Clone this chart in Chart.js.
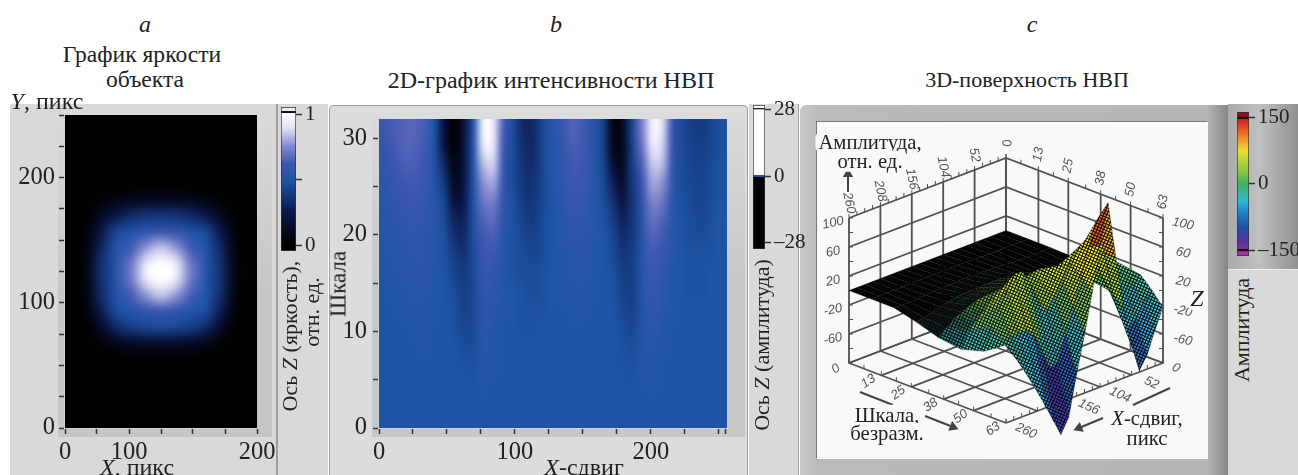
<!DOCTYPE html>
<html lang="ru">
<head>
<meta charset="utf-8">
<script src="https://cdn.jsdelivr.net/npm/chart.js@4/dist/chart.umd.min.js"></script>
<style>
  html, body { margin: 0; padding: 0; background: #fff; }
  #page { position: relative; width: 1298px; height: 475px; overflow: hidden; font-family: "Liberation Serif", serif; color: #222; }
  .box, canvas { position: absolute; }
  .t { position: absolute; white-space: nowrap; transform: translate(-50%, -50%); font-size: 22px; line-height: 1; z-index: 3; }
  .v { transform: translate(-50%, -50%) rotate(-90deg); }
  .s { font-size: 20.7px; background: #f9f9f7; padding: 0 3px; border-radius: 6px; }
  i { font-style: italic; }
</style>
</head>
<body>
<div id="page">
  <div class="box" style="left:10px;top:104px;width:266px;height:371px;background:#d9d9d9"></div>
  <div class="box" style="left:58px;top:115px;width:214px;height:322px;background:linear-gradient(#dadada,#c6c6c6 55%)"></div>
  <div class="box" style="left:276px;top:104px;width:2px;height:371px;background:#9c9c9c"></div>
  <div class="box" style="left:278px;top:104px;width:50px;height:371px;background:#d9d9d9"></div>

  <div class="box" style="left:329px;top:105px;width:417px;height:369px;background:#dcdcdc;border:1.5px solid #a0a0a0;border-radius:4px 4px 0 0"></div>
  <div class="box" style="left:372px;top:119px;width:373px;height:318px;background:linear-gradient(#dadada,#c8c8c8 50%)"></div>
  <div class="box" style="left:749px;top:104px;width:49px;height:371px;background:#d9d9d9;border-right:1.5px solid #a0a0a0"></div>

  <div class="box" style="left:800px;top:105px;width:428px;height:370px;background:linear-gradient(90deg,#c9c9c9,#b9bbbb 4%,#b5b7b7 95%,#858787);border-radius:6px 0 0 0"></div>
  <div class="box" style="left:817px;top:122px;width:391px;height:337px;background:#f9f9f7;box-shadow:-1px -1px 0 #777"></div>
  <div class="box" style="left:1228px;top:104px;width:70px;height:165px;background:linear-gradient(90deg,#a9abab,#c0c0c0 45%,#8f9191)"></div>
  <div class="box" style="left:1228px;top:269px;width:70px;height:206px;background:#d9d9d9;border-top:1px solid #eee"></div>

  <div class="t" style="left:145px;top:24px;font-size:24px"><i>a</i></div>
  <div class="t" style="left:556px;top:24px;font-size:24px"><i>b</i></div>
  <div class="t" style="left:1032px;top:24px;font-size:24px"><i>c</i></div>
  <div class="t" style="left:142px;top:55px;font-size:23.6px">График яркости</div>
  <div class="t" style="left:145px;top:80px;font-size:23.6px">объекта</div>
  <div class="t" style="left:551px;top:80px;font-size:24px">2D-график интенсивности НВП</div>
  <div class="t" style="left:1027px;top:80px">3D-поверхность НВП</div>
  <div class="t" style="left:47px;top:101px;font-size:24px"><i>Y</i>, пикс</div>
  <div class="t" style="left:137px;top:467px;font-size:24px"><i>X</i>, пикс</div>
  <div class="t v" style="left:290px;top:336px">Ось <i>Z</i> (яркость),</div>
  <div class="t v" style="left:312px;top:312px">отн. ед.</div>
  <div class="t v" style="left:338px;top:284px;font-size:23px">Шкала</div>
  <div class="t" style="left:584px;top:467px;font-size:24px"><i>X</i>-сдвиг</div>
  <div class="t v" style="left:762px;top:345px">Ось <i>Z</i> (амплитуда)</div>
  <div class="t v" style="left:1242px;top:330px">Амплитуда</div>
  <div class="t s" style="left:870px;top:142px">Амплитуда,</div>
  <div class="t s" style="left:870px;top:161px">отн. ед.</div>
  <div class="t s" style="left:887px;top:415px">Шкала,</div>
  <div class="t s" style="left:887px;top:433px">безразм.</div>
  <div class="t s" style="left:1147px;top:418px"><i>X</i>-сдвиг,</div>
  <div class="t s" style="left:1147px;top:438px">пикс</div>
  <div class="t s" style="left:1197px;top:298px;font-size:24px"><i>Z</i></div>
</div>

<script>
// panel a, brightness of the object, rows from top to bottom
const brightness = [
  [0,0,0,0,0,0,0,0,0,0,0,0,0],
  [0,0,0,0,0,0,0,0,0,0,0,0,0],
  [0,0,0,0,0,0,0,0,0,0,0,0,0],
  [0,0,0,0,0,0,0,0,0,0,0,0,0],
  [0,0,0,0,0,0,0,0,0,0,0,0,0],
  [0,0,.03,.07,.1,.12,.13,.12,.1,.07,.03,0,0],
  [0,.01,.12,.26,.34,.38,.39,.38,.34,.26,.12,.01,0],
  [0,.03,.26,.46,.52,.58,.62,.58,.52,.46,.26,.03,0],
  [0,.05,.32,.52,.63,.78,.86,.78,.63,.52,.32,.05,0],
  [0,.06,.36,.54,.72,.93,1,.93,.72,.54,.36,.06,0],
  [0,.06,.36,.54,.72,.93,1,.93,.72,.54,.36,.06,0],
  [0,.05,.34,.52,.64,.78,.86,.78,.64,.52,.34,.05,0],
  [0,.03,.28,.48,.52,.58,.62,.58,.52,.48,.28,.03,0],
  [0,.01,.14,.34,.42,.46,.47,.46,.42,.34,.14,.01,0],
  [0,0,.03,.1,.14,.16,.17,.16,.14,.1,.03,0,0],
  [0,0,0,0,0,0,0,0,0,0,0,0,0],
  [0,0,0,0,0,0,0,0,0,0,0,0,0],
  [0,0,0,0,0,0,0,0,0,0,0,0,0],
  [0,0,0,0,0,0,0,0,0,0,0,0,0],
  [0,0,0,0,0,0,0,0,0,0,0,0,0],
];
const aXTicks = [0, 33.33, 66.67, 100, 133.33, 166.67, 200];
const aXLabels = ["0", "", "100", "", "", "", "200"];
const aYTicks = [0, 25, 50, 75, 100, 125, 150, 175, 200, 225, 250];
const aYLabels = ["0", "", "", "", "100", "", "", "", "200", "", ""];

// panel b, wavelet amplitude, rows from scale 32 down to scale 0
const amplitude = [
  [6,8,9,9,8,1,-16,-28,-18,2,26,24,8,-2,-10,-10,-3,2,6,9,7,2,-4,-24,-22,-3,14,26,22,6,-2,-5,-6,-3,-1],
  [5,7,9,9,7,1,-14,-27,-17,2,24,23,7,-2,-9,-10,-3,1,5,8,7,2,-4,-22,-23,-4,12,24,21,6,-2,-4,-5,-3,-1],
  [4,6,8,8,6,1,-10,-24,-17,1,19,21,6,-2,-8,-9,-3,1,4,7,6,2,-3,-17,-22,-5,9,20,19,5,-2,-4,-4,-2,-1],
  [3,5,6,7,6,1,-6,-21,-16,1,15,17,5,-2,-7,-8,-3,1,4,6,6,2,-2,-12,-20,-6,7,17,15,4,-2,-3,-4,-2,-1],
  [2,4,5,6,5,2,-3,-16,-14,0,12,13,4,-1,-6,-7,-3,0,3,5,5,2,-1,-8,-16,-7,5,14,12,3,-1,-3,-3,-2,0],
  [2,3,4,5,4,2,-2,-11,-12,-1,9,10,3,-1,-4,-6,-2,0,2,4,4,2,-1,-5,-12,-7,3,11,9,3,-1,-2,-3,-1,0],
  [1,2,3,4,3,2,-1,-8,-10,-1,7,8,2,-1,-3,-4,-2,0,2,3,3,2,0,-3,-9,-6,2,9,7,2,-1,-2,-2,-1,0],
  [1,2,2,3,3,1,-1,-5,-8,-2,6,6,2,-1,-2,-3,-2,0,1,2,2,1,0,-2,-7,-5,2,7,5,2,0,-1,-1,-1,0],
  [0,1,2,2,2,1,0,-3,-6,-2,5,4,1,-1,-2,-2,-1,0,1,2,2,1,0,-1,-5,-5,2,6,4,1,0,-1,-1,0,0],
  [0,1,1,2,2,1,0,-2,-5,-3,4,3,1,0,-1,-2,-1,0,1,1,1,1,0,-1,-4,-5,2,5,3,1,0,-1,-1,0,0],
  [0,0,1,1,1,1,0,-1,-4,-3,3,2,1,0,-1,-1,-1,0,0,1,1,0,0,0,-3,-4,1,4,2,1,0,0,0,0,0],
  [0,0,0,1,1,0,0,-1,-3,-2,3,1,0,0,-1,-1,0,0,0,0,0,0,0,0,-2,-3,1,3,1,0,0,0,0,0,0],
  [0,0,0,0,1,0,0,0,-2,-2,2,1,0,0,0,0,0,0,0,0,0,0,0,0,-1,-2,1,2,1,0,0,0,0,0,0],
  [0,0,0,0,0,0,0,0,-1,-1,1,1,0,0,0,0,0,0,0,0,0,0,0,0,-1,-1,1,1,0,0,0,0,0,0,0],
  [0,0,0,0,0,0,0,0,0,-1,1,0,0,0,0,0,0,0,0,0,0,0,0,0,0,-1,0,1,0,0,0,0,0,0,0],
  [0,0,0,0,0,0,0,0,0,0,0,0,0,0,0,0,0,0,0,0,0,0,0,0,0,0,0,0,0,0,0,0,0,0,0],
  [0,0,0,0,0,0,0,0,0,0,0,0,0,0,0,0,0,0,0,0,0,0,0,0,0,0,0,0,0,0,0,0,0,0,0],
];
const bXTicks = [0, 25, 50, 75, 100, 125, 150, 175, 200, 225, 250, 255];
const bXLabels = ["0", "", "", "", "100", "", "", "", "200", "", "", ""];
const bYTicks = [0, 5, 10, 15, 20, 25, 30];
const bYLabels = ["0", "", "10", "", "20", "", "30"];

// panel c, surface height, one row per scale
const surfaceX = [0,13,26,39,52,65,78,91,104,117,130,143,156,169,182,195,208,221,234,247,260];
const surfaceS = [0,9,18,27,36,45,54,58.5,63];
const surfaceZ = [
  [0,0,0,0,0,0,0,0,0,0,0,0,0,0,0,0,0,0,0,0,0],
  [0,0,0,0,0,0,0,1,1,1,1,1,1,1,1,1,0,0,0,0,0],
  [0,-1,-1,-1,-1,0,1,2,2,3,3,3,3,2,2,2,1,0,-1,-1,0],
  [-1,-2,-3,-3,-3,-1,2,4,6,7,8,8,7,6,6,5,3,1,-3,-6,-8],
  [6,3,0,-2,0,4,8,12,16,18,20,20,18,16,16,14,10,5,0,-8,-18],
  [15,12,10,8,10,14,22,32,40,45,48,46,42,40,42,40,30,20,10,0,-22],
  [10,0,-5,-10,5,30,65,87,80,62,42,25,10,25,55,76,78,60,40,15,-13],
  [-5,-20,-35,-50,-25,10,70,120,88,50,12,-20,-55,-60,-30,-5,5,5,5,2,-3],
  [-23,-50,-80,-98,-60,-5,70,150,95,35,-20,-70,-125,-145,-121,-97,-74,-52,-31,-12,8],
];
const xShiftTicks = [0, 52, 104, 156, 208, 260];
const scaleTicks = [0, 13, 25, 38, 50, 63];
const zTicks = [100, 60, 20, -20, -60];

const SERIF = "'Liberation Serif', serif";
const TICK_FONT = { family: SERIF, size: 24.5 };
const BAR_FONT = { family: SERIF, size: 21 };
const INK = "#333";

// black through blue to white, used by panels a and b
const blueStops = [[0,[0,0,0]],[.25,[12,22,75]],[.5,[30,84,166]],[.62,[62,86,176]],[.75,[128,132,206]],[.9,[226,226,246]],[1,[255,255,255]]];
// rainbow of the colour bar in panel c, by value
const rainbowStops = [[-163,[165,50,160]],[-130,[85,50,150]],[-100,[32,80,160]],[-65,[32,128,192]],[-40,[48,184,216]],[0,[64,176,96]],[30,[144,200,64]],[75,[232,224,48]],[110,[240,120,40]],[145,[208,32,32]],[162,[138,16,32]]];
// the same rainbow as it looks on the meshed surface
const surfaceStops = [[-125,[150,50,170]],[-100,[60,50,170]],[-75,[35,70,175]],[-40,[50,170,200]],[0,[60,175,150]],[25,[120,185,70]],[60,[225,215,50]],[95,[235,190,45]],[112,[230,90,30]],[125,[180,20,20]]];

function pick(stops, v) {
  if (v <= stops[0][0]) return stops[0][1];
  for (let i = 1; i < stops.length; i++) {
    if (v <= stops[i][0]) {
      const [a, ca] = stops[i - 1];
      const [b, cb] = stops[i];
      const k = (v - a) / (b - a);
      return ca.map((c, n) => Math.round(c + (cb[n] - c) * k));
    }
  }
  return stops[stops.length - 1][1];
}
const rgb = (c) => `rgb(${c[0]},${c[1]},${c[2]})`;

function addCanvas(left, top, width, height) {
  const c = document.createElement("canvas");
  c.width = width;
  c.height = height;
  c.style.left = left + "px";
  c.style.top = top + "px";
  c.style.width = width + "px";
  c.style.height = height + "px";
  c.style.zIndex = 2;
  document.getElementById("page").appendChild(c);
  return c;
}

function tickedAxis(position, min, max, values, labels, size, padding, font = TICK_FONT) {
  return {
    type: "linear",
    position,
    min,
    max,
    offset: false,
    z: 1,
    afterBuildTicks: (axis) => { axis.ticks = values.map((value) => ({ value })); },
    afterFit: (axis) => {
      if (position === "bottom") axis.height = size;
      else axis.width = size;
      axis.paddingTop = axis.paddingBottom = axis.paddingLeft = axis.paddingRight = 0;
    },
    grid: { offset: false, drawOnChartArea: false, drawTicks: true, tickLength: 6, tickColor: INK, tickWidth: 1.5 },
    border: { display: true, color: "#d4d4d4", width: 2 },
    ticks: {
      autoSkip: false,
      maxRotation: 0,
      padding,
      color: "#222",
      font,
      callback: (_, i) => labels[i],
    },
  };
}

// cells come out as bars, this only smooths them over afterwards
const softenCells = (cols, rows) => ({
  id: "softenCells",
  afterDatasetsDraw(chart) {
    const a = chart.chartArea;
    const tmp = document.createElement("canvas");
    tmp.width = cols;
    tmp.height = rows;
    const t = tmp.getContext("2d");
    t.imageSmoothingEnabled = false;
    t.drawImage(chart.canvas, a.left, a.top, a.width, a.height, 0, 0, cols, rows);
    const ctx = chart.ctx;
    ctx.save();
    ctx.imageSmoothingEnabled = true;
    ctx.imageSmoothingQuality = "high";
    ctx.drawImage(tmp, 0, 0, cols, rows, a.left, a.top, a.width, a.height);
    ctx.restore();
  },
});

function heatChart({ grid, toColor, xMax, yMax, plot, canvasBox, xAxis, yAxis }) {
  const rows = grid.length;
  const cols = grid[0].length;
  const dx = xMax / cols;
  const dy = yMax / rows;
  const data = [];
  const colors = [];
  grid.forEach((row, r) => {
    row.forEach((v, c) => {
      data.push({ x: (c + 0.5) * dx, y: [yMax - (r + 1) * dy, yMax - r * dy] });
      colors.push(toColor(v));
    });
  });
  const canvas = addCanvas(canvasBox.left, canvasBox.top, canvasBox.width, canvasBox.height);
  return new Chart(canvas, {
    type: "bar",
    data: {
      datasets: [{
        data,
        backgroundColor: colors,
        barThickness: Math.ceil((plot.right - plot.left) / cols) + 1,
        borderWidth: 0,
      }],
    },
    options: {
      responsive: false,
      animation: false,
      layout: {
        autoPadding: false,
        padding: {
          left: 0,
          top: plot.top - canvasBox.top,
          right: canvasBox.left + canvasBox.width - plot.right,
          bottom: 0,
        },
      },
      plugins: { legend: { display: false }, tooltip: { enabled: false } },
      scales: { x: xAxis, y: yAxis },
    },
    plugins: [softenCells(cols, rows)],
  });
}

heatChart({
  grid: brightness,
  toColor: (v) => rgb(pick(blueStops, v)),
  xMax: 200,
  yMax: 250,
  plot: { left: 65, right: 257, top: 115, bottom: 428 },
  canvasBox: { left: 5, top: 105, width: 285, height: 370 },
  xAxis: tickedAxis("bottom", 0, 200, aXTicks, aXLabels, 47, 4),
  yAxis: tickedAxis("left", 0, 250, aYTicks, aYLabels, 60, 4),
});

heatChart({
  grid: amplitude,
  toColor: (v) => rgb(pick(blueStops, (v + 28) / 56)),
  xMax: 256,
  yMax: 32,
  plot: { left: 379, right: 727, top: 119, bottom: 428 },
  canvasBox: { left: 329, top: 105, width: 425, height: 370 },
  xAxis: tickedAxis("bottom", 0, 256, bXTicks, bXLabels, 47, 4),
  yAxis: tickedAxis("left", 0, 32, bYTicks, bYLabels, 50, 6),
});

function colorBar({ left, top, barWidth, height, min, max, ticks, labels, stops }) {
  const canvas = addCanvas(left, top - 8, barWidth + 62, height + 16);
  const range = max - min;
  return new Chart(canvas, {
    type: "bar",
    data: {
      labels: [""],
      datasets: [{
        data: [[min, max]],
        barPercentage: 1,
        categoryPercentage: 1,
        borderColor: "#333",
        borderWidth: 1,
        borderSkipped: false,
        backgroundColor: (c) => {
          const g = c.chart.ctx.createLinearGradient(0, 8 + height, 0, 8);
          stops.forEach(([v, color]) => g.addColorStop((v - min) / range, color));
          return g;
        },
      }],
    },
    options: {
      responsive: false,
      animation: false,
      layout: { autoPadding: false, padding: { top: 8, bottom: 8, left: 0, right: 0 } },
      plugins: { legend: { display: false }, tooltip: { enabled: false } },
      scales: {
        x: { display: false },
        y: {
          ...tickedAxis("right", min, max, ticks, labels, 62, 3, BAR_FONT),
          border: { display: false },
          grid: { drawOnChartArea: false, drawTicks: true, tickLength: 6, tickColor: INK, tickWidth: 1.5 },
        },
      },
    },
  });
}

colorBar({
  left: 281, top: 107, barWidth: 15, height: 144, min: -0.046, max: 1.06,
  ticks: [0, 0.5, 1], labels: ["0", "", "1"],
  stops: [[-0.046,"#000"],[0,"#000"],[.25,"#0c164b"],[.5,"#1e54a6"],[.62,"#3e56b0"],[.75,"#8084ce"],[.9,"#e2e2f6"],[1,"#fff"],[1.015,"#fff"],[1.016,"#111"],[1.03,"#111"],[1.031,"#eee"],[1.06,"#eee"]],
});

colorBar({
  left: 753, top: 105, barWidth: 12, height: 144, min: -30.6, max: 30.1,
  ticks: [-28, 0, 28], labels: ["–28", "0", "28"],
  stops: [[-30.6,"#000"],[-0.3,"#000"],[-0.29,"#1e54a6"],[0.6,"#1e54a6"],[0.61,"#fff"],[28.2,"#fff"],[28.21,"#222"],[29,"#222"],[29.01,"#fff"],[30.1,"#fff"]],
});

colorBar({
  left: 1237, top: 112, barWidth: 12, height: 144, min: -163, max: 162,
  ticks: [-150, 0, 150], labels: ["–150", "0", "150"],
  stops: [[-163,"#a532a0"],[-153,"#a532a0"],[-152,"#111"],[-148,"#111"],[-147,"#7a3298"],[-130,"#553296"],
    ...rainbowStops.slice(2, 9).map(([v, c]) => [v, rgb(c)]),
    [145,"#d02020"],[146,"#d02020"],[147,"#111"],[151,"#111"],[152,"#8a1020"],[162,"#8a1020"]],
});

// panel c
const project = (X, S, Z) => ({
  x: 1006 - 157 * X / 260 + 157 * S / 63,
  y: 230.5 + 60 * X / 260 + 60 * S / 63 - 0.725 * Z,
});

const patternCache = {};
function meshPattern(ctx, color) {
  const key = color.join(",");
  if (patternCache[key]) return patternCache[key];
  const tile = document.createElement("canvas");
  tile.width = 3;
  tile.height = 3;
  const t = tile.getContext("2d");
  t.fillStyle = "#080808";
  t.fillRect(0, 0, 3, 3);
  t.fillStyle = rgb(color);
  t.fillRect(0, 0, 2, 2);
  const p = ctx.createPattern(tile, "repeat");
  p.setTransform(new DOMMatrix().rotate(24));
  patternCache[key] = p;
  return p;
}

const drawn = [];
const addLine = (points, color, width) => drawn.push({
  data: points,
  showLine: true,
  fill: false,
  borderColor: color,
  borderWidth: width,
  pointRadius: 0,
});

const GRID = "#505050";
const lines3d = () => {
  const wall = [-100, ...zTicks];
  wall.forEach((z) => {
    addLine([project(260, 0, z), project(0, 0, z), project(0, 63, z)], GRID, 1.8);
  });
  xShiftTicks.forEach((x) => {
    addLine([project(x, 0, 100), project(x, 0, -100), project(x, 63, -100)], GRID, 1.8);
  });
  scaleTicks.forEach((s) => {
    addLine([project(0, s, 100), project(0, s, -100), project(260, s, -100)], GRID, 1.8);
  });
  surfaceX.forEach((x) => {
    const a = project(x, 0, 100);
    addLine([a, { x: a.x, y: a.y - 4 }], GRID, 1);
    const b = project(x, 63, -100);
    addLine([b, { x: b.x, y: b.y - 4 }], GRID, 1);
  });
  [0, 6, 13, 19, 25, 32, 38, 44, 50, 57, 63].forEach((s) => {
    const a = project(0, s, 100);
    addLine([a, { x: a.x, y: a.y - 4 }], GRID, 1);
    const b = project(260, s, -100);
    addLine([b, { x: b.x, y: b.y - 4 }], GRID, 1);
  });
  [100, 80, 60, 40, 20, 0, -20, -40, -60, -80].forEach((z) => {
    const a = project(260, 0, z);
    addLine([a, { x: a.x + 4, y: a.y }], GRID, 1);
    const b = project(0, 63, z);
    addLine([b, { x: b.x - 4, y: b.y }], GRID, 1);
  });
};
lines3d();

const surfaceCanvas = addCanvas(817, 122, 391, 337);
const surfaceCtx = surfaceCanvas.getContext("2d");
for (let xi = 0; xi < surfaceX.length - 1; xi++) {
  for (let si = 0; si < surfaceS.length - 1; si++) {
    const corners = [[xi, si], [xi + 1, si], [xi + 1, si + 1], [xi, si + 1], [xi, si]];
    const points = corners.map(([a, b]) => project(surfaceX[a], surfaceS[b], surfaceZ[b][a]));
    const mean = (surfaceZ[si][xi] + surfaceZ[si][xi + 1] + surfaceZ[si + 1][xi] + surfaceZ[si + 1][xi + 1]) / 4;
    const midS = (surfaceS[si] + surfaceS[si + 1]) / 2;
    // the mesh closes up to black where the sheet is seen at a grazing angle
    const shade = Math.max(0, Math.min(1, (midS - 30) / 18)) + Math.min(0.3, Math.abs(mean) / 100);
    const base = pick(surfaceStops, mean);
    const k = Math.min(1, shade) * 1.2;
    const color = base.map((c) => Math.min(255, Math.round(c * k / 12) * 12));
    drawn.push({
      data: points,
      showLine: true,
      fill: "shape",
      backgroundColor: meshPattern(surfaceCtx, color),
      borderColor: "rgba(0,0,0,0.45)",
      borderWidth: 0.6,
      pointRadius: 0,
    });
  }
}

// arrows next to the axis captions
const arrow = (from, to) => {
  const angle = Math.atan2(to.y - from.y, to.x - from.x) * 180 / Math.PI + 90;
  drawn.push({
    data: [from, to],
    showLine: true,
    fill: false,
    borderColor: "#444",
    borderWidth: 2,
    pointStyle: "triangle",
    pointRadius: [0, 6],
    pointRotation: angle,
    pointBackgroundColor: "#444",
    pointBorderWidth: 0,
  });
};
addLine([{ x: 860, y: 392 }, { x: 893, y: 405 }], "#444", 2);
arrow({ x: 925, y: 416 }, { x: 953, y: 427 });
addLine([{ x: 1170, y: 388 }, { x: 1133, y: 405 }], "#444", 2);
arrow({ x: 1103, y: 418 }, { x: 1079, y: 428 });
arrow({ x: 848, y: 192 }, { x: 848, y: 174 });

drawn.forEach((d, i) => { d.order = -i; });

const axisLabels3d = {
  id: "axisLabels3d",
  afterDatasetsDraw(chart) {
    const { ctx, scales } = chart;
    const put = (text, px, py, deg) => {
      ctx.save();
      ctx.translate(scales.x.getPixelForValue(px), scales.y.getPixelForValue(py));
      ctx.rotate(deg * Math.PI / 180);
      ctx.fillText(String(text), 0, 0);
      ctx.restore();
    };
    ctx.save();
    ctx.font = "italic 13px 'Liberation Sans', sans-serif";
    ctx.fillStyle = "#555";
    ctx.textAlign = "center";
    ctx.textBaseline = "middle";
    xShiftTicks.forEach((x) => {
      const p = project(x, 0, 100);
      put(x, p.x, p.y - 15, 78);
    });
    scaleTicks.forEach((s) => {
      if (s === 0) return;
      const p = project(0, s, 100);
      put(s, p.x, p.y - 16, -80);
    });
    zTicks.forEach((z) => {
      const l = project(260, 0, z);
      put(z > 0 ? z : "-" + Math.abs(z), l.x - 16, l.y + 5, -12);
      const r = project(0, 63, z);
      put(z > 0 ? z : "-" + Math.abs(z), r.x + 20, r.y + 6, 12);
    });
    scaleTicks.forEach((s) => {
      const p = project(260, s, -100);
      put(s, p.x - 13, p.y + 6, -35);
    });
    xShiftTicks.forEach((x) => {
      if (x === 208) return; // hidden behind the surface
      const p = project(x, 63, -100);
      put(x, p.x + (x === 0 ? 13 : 20), p.y + (x === 0 ? 5 : 8), 25);
    });
    ctx.restore();
  },
};

new Chart(surfaceCanvas, {
  type: "scatter",
  data: { datasets: drawn },
  options: {
    responsive: false,
    animation: false,
    layout: { autoPadding: false, padding: 0 },
    plugins: { legend: { display: false }, tooltip: { enabled: false } },
    scales: {
      x: { display: false, min: 817, max: 1208 },
      y: { display: false, min: 122, max: 459, reverse: true },
    },
  },
  plugins: [axisLabels3d],
});
</script>
</body>
</html>
